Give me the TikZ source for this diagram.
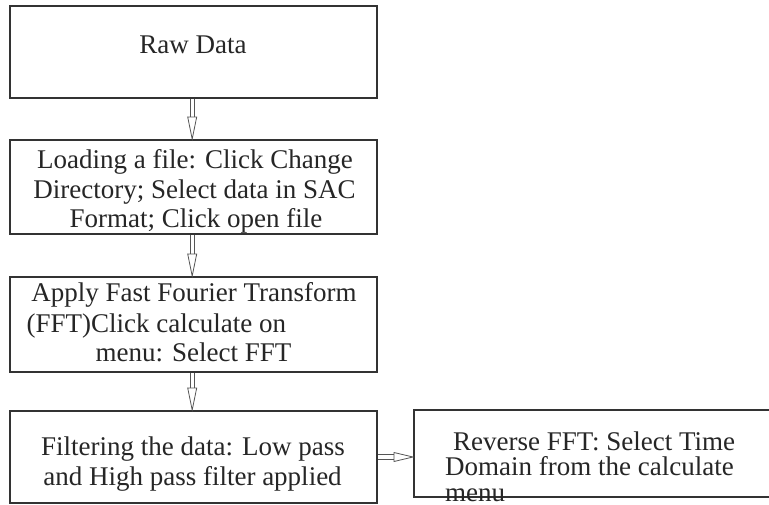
\documentclass[tikz,border=0pt]{standalone}
\usepackage{fontspec}
\setmainfont{Liberation Serif}
\usetikzlibrary{calc}
\definecolor{boxline}{HTML}{333333}
\definecolor{arrline}{HTML}{555555}
\definecolor{txtcol}{HTML}{262626}
\tikzset{
  stepbox/.style={draw=boxline, line width=2pt, rectangle, inner sep=0pt},
  txt/.style={inner sep=0pt, text=txtcol, font=\fontsize{27}{30}\selectfont},
  conn/.style={draw=arrline, line width=0.8pt},
}
\newcommand{\myvarrow}[2]{%
  \draw[conn] ($(#1)+(-2,0)$) -- ($(#2)+(-2,-22)$);
  \draw[conn] ($(#1)+(2,0)$) -- ($(#2)+(2,-22)$);
  \draw[conn,fill=white,line join=miter] ($(#2)+(-4.5,-22)$) -- (#2) -- ($(#2)+(4.5,-22)$) -- cycle;}
\newcommand{\myharrow}[2]{%
  \draw[conn] ($(#1)+(0,-2.5)$) -- ($(#2)+(-19,-2.5)$);
  \draw[conn] ($(#1)+(0,2.5)$) -- ($(#2)+(-19,2.5)$);
  \draw[conn,fill=white,line join=miter] ($(#2)+(-19,-4.5)$) -- (#2) -- ($(#2)+(-19,4.5)$) -- cycle;}
\begin{document}
\begin{tikzpicture}[x=1pt,y=-1pt]
\clip (0,0) rectangle (769,504);
\fill[white] (0,0) rectangle (769,504);
% boxes
\node[stepbox, minimum width=367pt, minimum height=92pt] (b1) at (193.5,52) {};
\node[stepbox, minimum width=367pt, minimum height=94pt] (b2) at (193.5,187) {};
\node[stepbox, minimum width=367pt, minimum height=95pt] (b3) at (193.5,324.5) {};
\node[stepbox, minimum width=367pt, minimum height=92pt] (b4) at (193.5,457) {};
\node[stepbox, minimum width=366pt, minimum height=87pt] (b5) at (597,453.5) {};
% texts
\node[txt, anchor=base] (t1) at (193,53) {Raw Data};
\node[txt, anchor=base] (t2a) at (195,168) {Loading a file: Click Change};
\node[txt, anchor=base] (t2b) at (194.5,198) {Directory; Select data in SAC};
\node[txt, anchor=base] (t2c) at (196,227) {Format; Click open file};
\node[txt, anchor=base] (t3a) at (194,301.5) {Apply Fast Fourier Transform};
\node[txt, anchor=base west] (t3b) at (26.5,332.5) {(FFT)Click calculate on};
\node[txt, anchor=base] (t3c) at (193.5,361.5) {menu: Select FFT};
\node[txt, anchor=base] (t4a) at (193,455) {Filtering the data: Low pass};
\node[txt, anchor=base] (t4b) at (192.5,485) {and High pass filter applied};
\node[txt, anchor=base west] (t5a) at (453,450) {Reverse FFT: Select Time};
\node[txt, anchor=base west] (t5b) at (445,475.5) {Domain from the calculate};
\node[txt, anchor=base west] (t5c) at (445,501.5) {menu};
% connectors
\coordinate (a1s) at ([xshift=-1.3pt]b1.south);
\coordinate (a1e) at ([xshift=-1.3pt]b2.north);
\coordinate (a2s) at ([xshift=-1.3pt]b2.south);
\coordinate (a2e) at ([xshift=-1.3pt]b3.north);
\coordinate (a3s) at ([xshift=-1.3pt]b3.south);
\coordinate (a3e) at ([xshift=-1.3pt]b4.north);
\coordinate (a4s) at (b4.east);
\coordinate (a4e) at (b4.east -| b5.west);
\myvarrow{a1s}{a1e}
\myvarrow{a2s}{a2e}
\myvarrow{a3s}{a3e}
\myharrow{a4s}{a4e}
\end{tikzpicture}
\end{document}
